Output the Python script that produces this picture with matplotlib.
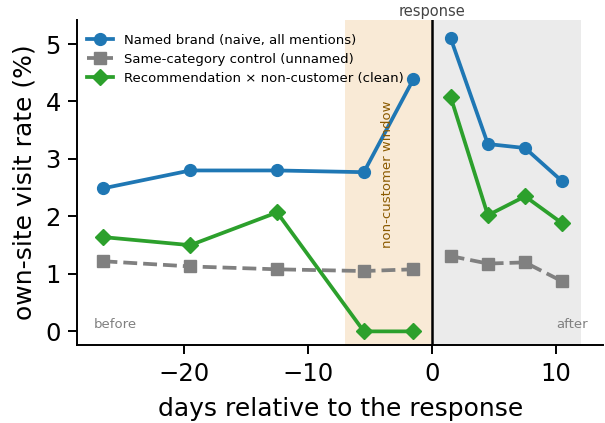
import matplotlib
matplotlib.use("Agg")
import matplotlib.pyplot as plt

days = [-26.5, -19.5, -12.5, -5.5, -1.5, 1.5, 4.5, 7.5, 10.5]
named_brand = [2.49, 2.80, 2.80, 2.77, 4.39, 5.10, 3.26, 3.19, 2.61]
same_category = [1.22, 1.13, 1.08, 1.05, 1.08, 1.31, 1.18, 1.20, 0.87]
recommendation = [1.64, 1.50, 2.07, 0.0, 0.0, 4.08, 2.02, 2.35, 1.88]
labels = ["Named brand (naive, all mentions)",
          "Same-category control (unnamed)",
          "Recommendation × non-customer (clean)"]

pre_idx = [i for i, d in enumerate(days) if d < 0]
post_idx = [i for i, d in enumerate(days) if d > 0]

fig, ax = plt.subplots(figsize=(6.05, 4.23), dpi=100)
fig.subplots_adjust(left=0.128, right=0.997, top=0.953, bottom=0.184)

ax.axvspan(-7, 0, color="#f9ead6", zorder=0, lw=0)
ax.axvspan(0, 12, color="#ebebeb", zorder=0, lw=0)
ax.axvline(0, color="black", lw=1.8, zorder=1)

styles = [
    (named_brand, dict(color="#1f77b4", marker="o", ls="-", ms=8.5)),
    (same_category, dict(color="#808080", marker="s", ls="--", ms=8.5)),
    (recommendation, dict(color="#2ca02c", marker="D", ls="-", ms=8)),
]
for (vals, st), lab in zip(styles, labels):
    for k, idx in enumerate((pre_idx, post_idx)):
        ax.plot([days[i] for i in idx], [vals[i] for i in idx], lw=2.7,
                label=lab if k == 0 else None, zorder=3, **st)

ax.set_xlim(-28.6, 13.8)
ax.set_ylim(-0.24, 5.42)
ax.set_xticks([-20, -10, 0, 10])
ax.set_yticks([0, 1, 2, 3, 4, 5])
ax.tick_params(labelsize=17.5, width=1.4, length=6.5, pad=5.5)
for s in ("top", "right"):
    ax.spines[s].set_visible(False)
for s in ("left", "bottom"):
    ax.spines[s].set_linewidth(1.4)

ax.set_xlabel("days relative to the response", fontsize=18, labelpad=8)
ax.set_ylabel("own-site visit rate (%)", fontsize=18, labelpad=6)

ax.text(0, 5.43, "response", ha="center", va="bottom", fontsize=10.5, color="#444444")
ax.text(-3.6, 2.73, "non-customer window", rotation=90, ha="center", va="center",
        fontsize=9.5, color="#8b5a00")
ax.text(-27.3, 0.0, "before", ha="left", va="bottom", fontsize=9.5, color="#808080")
ax.text(12.6, 0.0, "after", ha="right", va="bottom", fontsize=9.5, color="#808080")

ax.legend(loc="upper left", fontsize=9.5, frameon=False, bbox_to_anchor=(0.0, 0.985),
          handlelength=2.0, borderaxespad=0.3, labelspacing=0.45)

fig.savefig("out.png", dpi=100)
